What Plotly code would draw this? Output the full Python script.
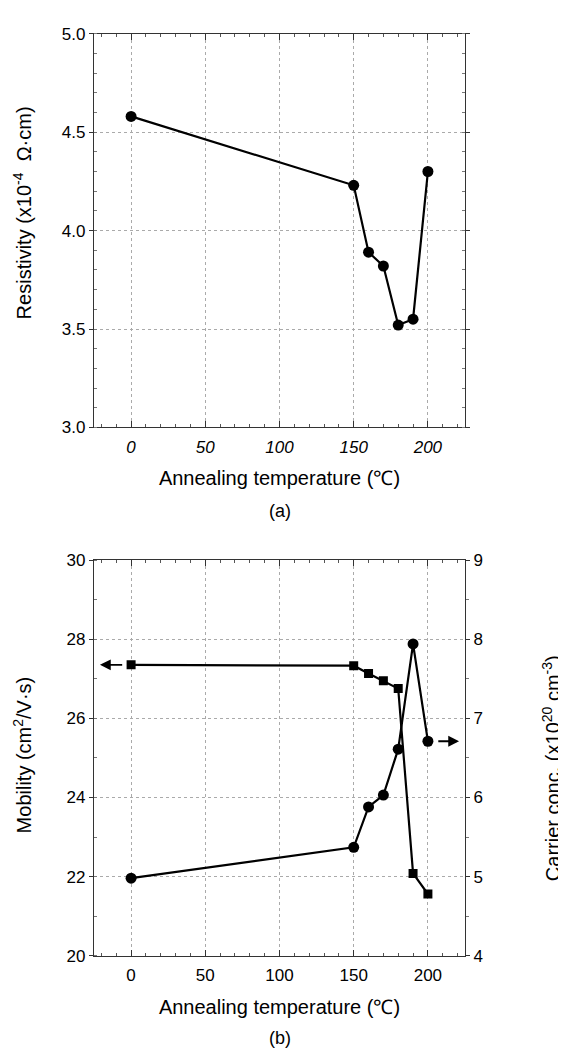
import plotly.graph_objects as go

# annealing temperatures (deg C)
temps = [0, 150, 160, 170, 180, 190, 200]
# (a) resistivity, x10^-4 ohm.cm
resistivity = [4.58, 4.23, 3.89, 3.82, 3.52, 3.55, 4.30]
# (b) hall mobility, cm^2/V.s  (left axis, squares)
mobility = [27.35, 27.33, 27.13, 26.95, 26.75, 22.08, 21.56]
# (b) carrier concentration, x10^20 cm^-3  (right axis, circles)
carrier = [4.98, 5.37, 5.88, 6.03, 6.61, 7.94, 6.71]

x_ticks = [0, 50, 100, 150, 200]

FONT = "Liberation Sans, Arial, sans-serif"
W, H = 566, 1051
x_dom = [86 / W, 457 / W]
top_dom = [1 - 418 / H, 1 - 17 / H]
bot_dom = [1 - 956 / H, 1 - 553 / H]

line = dict(color="black", width=2.2)

fig = go.Figure()
fig.add_trace(go.Scatter(x=temps, y=resistivity, mode="lines+markers", line=line,
                         marker=dict(symbol="circle", size=11, color="black"),
                         xaxis="x", yaxis="y"))
fig.add_trace(go.Scatter(x=temps, y=mobility, mode="lines+markers", line=line,
                         marker=dict(symbol="square", size=9, color="black"),
                         xaxis="x2", yaxis="y2"))
fig.add_trace(go.Scatter(x=temps, y=carrier, mode="lines+markers", line=line,
                         marker=dict(symbol="circle", size=11, color="black"),
                         xaxis="x2", yaxis="y3"))

tick_font = dict(size=17, color="black", family=FONT)
title_font = dict(size=20, color="black", family=FONT)

grid = dict(showgrid=True, gridcolor="#aaa", griddash="dot", gridwidth=1,
            zeroline=False, showline=True, linecolor="#333", linewidth=1.2,
            tickcolor="#333", tickfont=tick_font)

xaxis_common = dict(grid, range=[-25, 225], tickvals=x_ticks, ticks="inside", ticklen=6,
                    mirror="ticks", ticklabelstandoff=4,
                    minor=dict(dtick=10, ticks="inside", ticklen=3,
                               tickcolor="#555", showgrid=False),
                    title=dict(text="Annealing temperature (℃)", standoff=15, font=title_font))

fig.update_layout(
    width=W, height=H, margin=dict(l=0, r=0, t=0, b=0),
    paper_bgcolor="white", plot_bgcolor="white", showlegend=False,
    font=dict(family=FONT, color="black"),
    xaxis=dict(xaxis_common, domain=x_dom, anchor="y",
               tickfont=dict(tick_font, style="italic")),
    yaxis=dict(grid, domain=top_dom, anchor="x", range=[3.0, 5.0], dtick=0.5,
               tickformat=".1f", ticks="outside", ticklen=4, mirror="ticks",
               minor=dict(dtick=0.1, ticks="inside", ticklen=3, tickcolor="#777", showgrid=False)),
    xaxis2=dict(xaxis_common, domain=x_dom, anchor="y2"),
    yaxis2=dict(grid, domain=bot_dom, anchor="x2", range=[20, 30], dtick=2,
                ticks="outside", ticklen=4,
                minor=dict(dtick=1, ticks="inside", ticklen=3, tickcolor="#777", showgrid=False)),
    yaxis3=dict(grid, overlaying="y2", side="right", anchor="x2", range=[4, 9], dtick=1,
                showgrid=False, ticks="outside", ticklen=4,
                minor=dict(dtick=0.5, ticks="outside", ticklen=3, tickcolor="#777")),
)

# y axis titles placed as rotated annotations
for text, px, py in [("Resistivity (x10<sup>-4</sup>  Ω·cm)", 14, 200),
                     ("Mobility (cm<sup>2</sup>/V·s)", 14, 752),
                     ("Carrier conc. (x10<sup>20</sup> cm<sup>-3</sup>)", 543, 765)]:
    fig.add_annotation(x=px / W, y=1 - py / H, xref="paper", yref="paper", text=text,
                       textangle=-90, showarrow=False, xanchor="center", yanchor="middle",
                       font=title_font)

# direction arrows pointing to the matching axis
fig.add_annotation(x=-21, y=mobility[0], ax=-5, ay=mobility[0], xref="x2", yref="y2",
                   axref="x2", ayref="y2", text="", showarrow=True, arrowhead=2,
                   arrowsize=1.2, arrowwidth=1.8, arrowcolor="black")
fig.add_annotation(x=221, y=carrier[-1], ax=206, ay=carrier[-1], xref="x2", yref="y3",
                   axref="x2", ayref="y3", text="", showarrow=True, arrowhead=2,
                   arrowsize=1.2, arrowwidth=1.8, arrowcolor="black")

fig.add_annotation(x=(x_dom[0] + x_dom[1]) / 2, y=1 - 503 / H, xref="paper", yref="paper",
                   text="(a)", showarrow=False, font=dict(size=18, family=FONT))
fig.add_annotation(x=(x_dom[0] + x_dom[1]) / 2, y=1 - 1040 / H, xref="paper", yref="paper",
                   text="(b)", showarrow=False, font=dict(size=18, family=FONT),
                   yanchor="middle")

fig.write_html("out.html")
